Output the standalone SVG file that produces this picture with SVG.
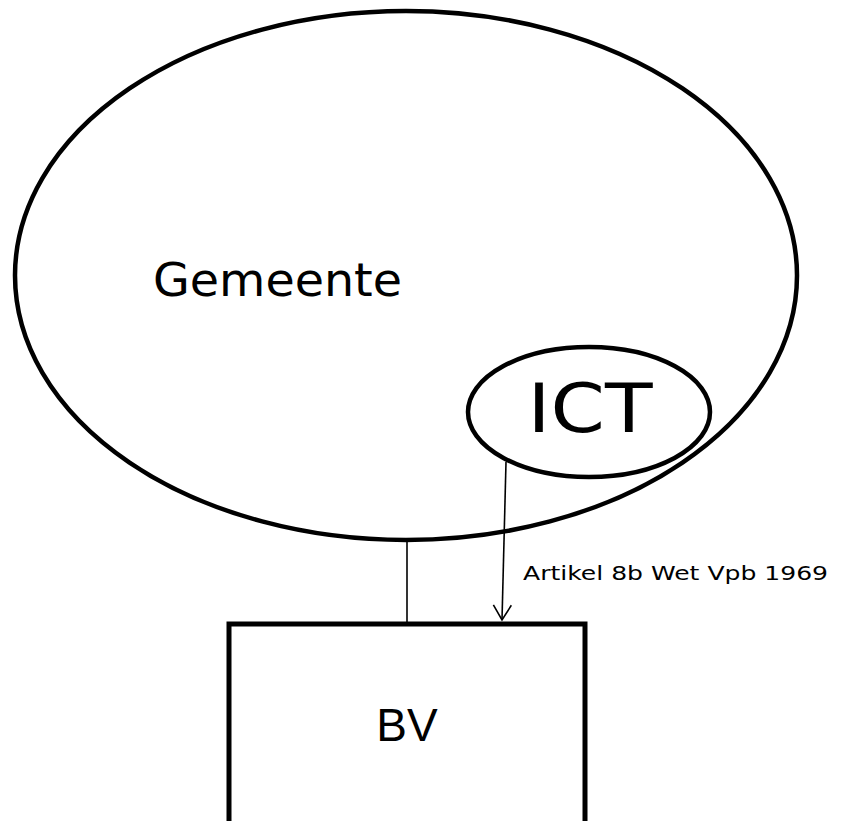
<svg xmlns="http://www.w3.org/2000/svg" width="846" height="821" viewBox="0 0 846 821">
<style>
.shape{fill:none;stroke:#000}
.lbl{font-family:"DejaVu Sans",Verdana,sans-serif;fill:#000}
.conn{stroke:#000;stroke-width:1.6;fill:none}
</style>
<defs>
<marker id="open" viewBox="0 0 20 20" refX="18" refY="10" markerWidth="20" markerHeight="20" markerUnits="userSpaceOnUse" orient="auto">
<path d="M3,1 L18,10 L3,19" fill="none" stroke="#000" stroke-width="1.6"/>
</marker>
</defs>
<rect width="846" height="821" fill="#fff"/>
<g id="gemeente">
<ellipse class="shape" cx="406" cy="275.5" rx="391" ry="264.5" stroke-width="4.5"/>
<text class="lbl" x="153" y="296" font-size="46" textLength="249" lengthAdjust="spacingAndGlyphs">Gemeente</text>
</g>
<g id="ict">
<ellipse class="shape" cx="589" cy="412" rx="121" ry="65" stroke-width="4.5"/>
<text class="lbl" x="590" y="432" font-size="68" text-anchor="middle" textLength="125" lengthAdjust="spacingAndGlyphs">ICT</text>
</g>
<g id="bv">
<rect class="shape" x="229" y="624" width="356" height="300" stroke-width="5"/>
<text x="407" y="741" font-family="'Liberation Sans',Arial,sans-serif" font-size="46" text-anchor="middle">BV</text>
</g>
<g id="connectors">
<line class="conn" x1="407" y1="540" x2="407" y2="622"/>
<line class="conn" x1="506" y1="462" x2="502" y2="620" marker-end="url(#open)"/>
<text class="lbl" x="523" y="580" font-size="20" textLength="305" lengthAdjust="spacingAndGlyphs">Artikel 8b Wet Vpb 1969</text>
</g>
</svg>
